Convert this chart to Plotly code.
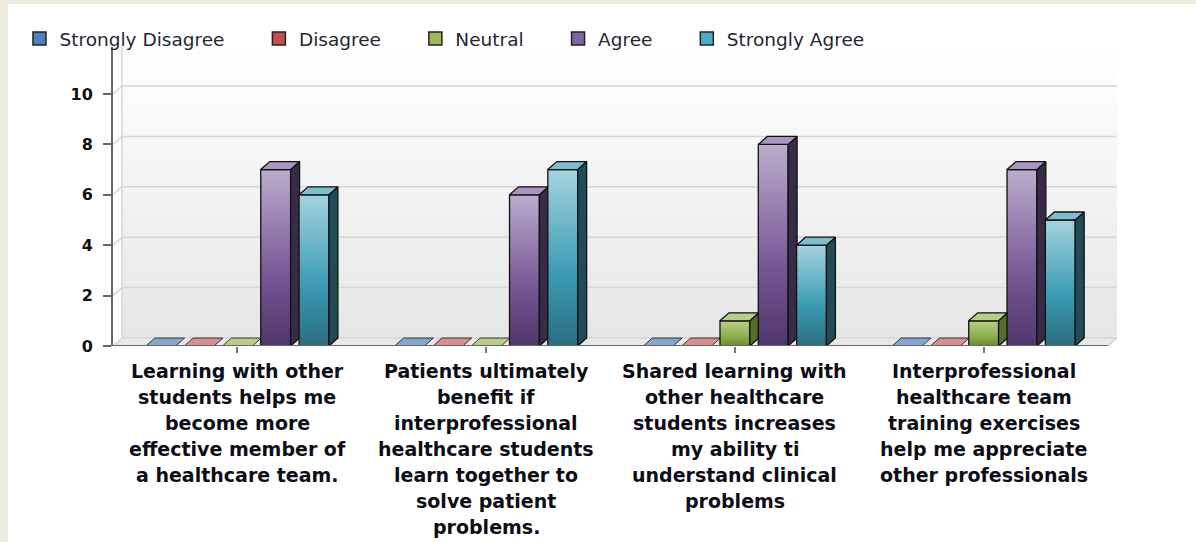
import plotly.graph_objects as go

# ---------------- data ----------------
categories = [
    "Learning with other students helps me become more effective member of a healthcare team.",
    "Patients ultimately benefit if interprofessional healthcare students learn together to solve patient problems.",
    "Shared learning with other healthcare students increases my ability ti understand clinical problems",
    "Interprofessional healthcare team training exercises help me appreciate other professionals",
]
category_label_lines = [
    ["Learning with other", "students helps me", "become more", "effective member of", "a healthcare team."],
    ["Patients ultimately", "benefit if", "interprofessional", "healthcare students", "learn together to", "solve patient", "problems."],
    ["Shared learning with", "other healthcare", "students increases", "my ability ti", "understand clinical", "problems"],
    ["Interprofessional", "healthcare team", "training exercises", "help me appreciate", "other professionals"],
]
series_names = ["Strongly Disagree", "Disagree", "Neutral", "Agree", "Strongly Agree"]
strongly_disagree = [0, 0, 0, 0]
disagree = [0, 0, 0, 0]
neutral = [0, 0, 1, 1]
agree = [7, 6, 8, 7]
strongly_agree = [6, 7, 4, 5]
series_values = [strongly_disagree, disagree, neutral, agree, strongly_agree]
y_ticks = [0, 2, 4, 6, 8, 10]

# ---------------- styles ----------------
legend_colors = ["#4f81bd", "#c0504d", "#9bbb59", "#8064a2", "#4bacc6"]
front_scales = [
    [[0, "#3d6594"], [0.4, "#5a86bd"], [1, "#a9c0dd"]],
    [[0, "#8c3431"], [0.4, "#c0504d"], [1, "#e0a7a5"]],
    [[0, "#6b8a32"], [0.4, "#8fb04e"], [1, "#b8cf86"]],
    [[0, "#4f366a"], [0.4, "#775896"], [1, "#bbadcd"]],
    [[0, "#2b6d7e"], [0.4, "#3a9bb3"], [1, "#a4d3de"]],
]
side_colors = ["#2b4668", "#5e2322", "#566d27", "#382b48", "#214c57"]
top_colors = ["#86a5cf", "#d6908e", "#b7cd89", "#a895c0", "#7cbfd0"]
edge_color = "#111111"

# page body margin (beige frame) -> figure is laid out in window px minus offsets
OFF_X, OFF_Y = 8, 4
W, H = 1196 - OFF_X, 542 - OFF_Y
L_PX, R_PX, T_PX, B_PX = 108 - OFF_X, 1117 - OFF_X, 47 - OFF_Y, 346 - OFF_Y
PX_PER_X = 250.0
PX_PER_Y = 25.2
X_MIN = -0.5
X_MAX = X_MIN + (R_PX - L_PX) / PX_PER_X
Y_MAX = (B_PX - T_PX) / PX_PER_Y
DX = 9 / PX_PER_X
DY = 8 / PX_PER_Y
PITCH = 0.154
BAR_W = 0.12
CAT_END = len(categories) - 0.5


def px_x(p):
    return (p - OFF_X - L_PX) / (R_PX - L_PX)


def px_y(p):
    return (B_PX - (p - OFF_Y)) / (B_PX - T_PX)


fig = go.Figure()

# back wall with vertical gradient
fig.add_trace(go.Scatter(
    x=[X_MIN + DX, X_MAX, X_MAX, X_MIN + DX, X_MIN + DX],
    y=[DY, DY, Y_MAX, Y_MAX, DY],
    mode="lines", line=dict(width=0), fill="toself",
    fillgradient=dict(type="vertical", colorscale=[[0, "#e6e6e6"], [1, "#ffffff"]]),
    hoverinfo="skip", showlegend=False))
# floor
fig.add_trace(go.Scatter(
    x=[X_MIN, CAT_END, CAT_END + DX, X_MIN + DX, X_MIN],
    y=[0, 0, DY, DY, 0],
    mode="lines", line=dict(width=0), fill="toself", fillcolor="#e9e9e9",
    hoverinfo="skip", showlegend=False))
# grid lines on wall (skewed)
gx, gy = [], []
for v in y_ticks:
    gx += [X_MIN, X_MIN + DX, X_MAX, None]
    gy += [v, v + DY, v + DY, None]
gx += [X_MIN + DX, X_MIN + DX, None]
gy += [DY, Y_MAX, None]
fig.add_trace(go.Scatter(x=gx, y=gy, mode="lines", line=dict(color="#d6d6d6", width=1.5),
                         hoverinfo="skip", showlegend=False))
# floor front-right edge
fig.add_trace(go.Scatter(x=[CAT_END, CAT_END + DX, X_MAX], y=[0, DY, DY], mode="lines",
                         line=dict(color="#cfcfcf", width=1.2), hoverinfo="skip", showlegend=False))

# 3D bars
n_series = len(series_values)
for j in range(len(categories)):
    for i in range(n_series):
        v = series_values[i][j]
        c = j + (i - (n_series - 1) / 2) * PITCH
        x0, x1 = c - BAR_W / 2, c + BAR_W / 2
        if v > 0:
            fig.add_trace(go.Scatter(
                x=[x0, x1, x1, x0, x0], y=[0, 0, v, v, 0], mode="lines",
                line=dict(color=edge_color, width=1.3), fill="toself",
                fillgradient=dict(type="vertical", colorscale=front_scales[i]),
                hoverinfo="skip", showlegend=False))
            fig.add_trace(go.Scatter(
                x=[x1, x1 + DX, x1 + DX, x1, x1], y=[0, DY, v + DY, v, 0], mode="lines",
                line=dict(color=edge_color, width=1.3), fill="toself", fillcolor=side_colors[i],
                hoverinfo="skip", showlegend=False))
        fig.add_trace(go.Scatter(
            x=[x0, x1, x1 + DX, x0 + DX, x0], y=[v, v, v + DY, v + DY, v], mode="lines",
            line=dict(color=edge_color, width=1.3 if v > 0 else 0.8), fill="toself",
            fillcolor=top_colors[i], hoverinfo="skip", showlegend=False))

# front x-axis line
fig.add_trace(go.Scatter(x=[X_MIN, CAT_END], y=[0, 0], mode="lines",
                         line=dict(color="#666666", width=2), hoverinfo="skip", showlegend=False))

# legend entries
for i, name in enumerate(series_names):
    fig.add_trace(go.Scatter(
        x=[None], y=[None], mode="markers", name=name + "\u00a0" * 5,
        marker=dict(symbol="square", size=13, color=legend_colors[i],
                    line=dict(color="#222222", width=1.5))))

# category labels, one annotation per line
for j, lines in enumerate(category_label_lines):
    for k, line in enumerate(lines):
        fig.add_annotation(
            x=j, y=0, xref="x", yref="y", text=line, showarrow=False,
            xanchor="center", yanchor="middle", yshift=-(25 + 26 * k),
            font=dict(family="DejaVu Sans", size=19, color="#0d0d16", weight="bold"))

fig.update_layout(
    width=W, height=H, autosize=False,
    margin=dict(l=L_PX, r=W - R_PX, t=T_PX, b=H - B_PX, pad=0),
    paper_bgcolor="#ffffff", plot_bgcolor="rgba(0,0,0,0)",
    showlegend=True,
    legend=dict(orientation="h", x=px_x(14), xanchor="left", y=px_y(39), yanchor="middle",
                font=dict(family="DejaVu Sans", size=18.5, color="#26262e"),
                itemwidth=30, bgcolor="rgba(0,0,0,0)", traceorder="normal"),
    xaxis=dict(range=[X_MIN, X_MAX], showgrid=False, zeroline=False, showline=False,
               tickmode="array", tickvals=list(range(len(categories))), ticktext=[""] * len(categories),
               ticks="outside", ticklen=6, tickcolor="#777777", tickwidth=1.5, fixedrange=True),
    yaxis=dict(range=[0, Y_MAX], showgrid=False, zeroline=False, showline=True,
               linecolor="#666666", linewidth=2,
               tickmode="array", tickvals=y_ticks, ticktext=[str(v) for v in y_ticks],
               ticks="outside", ticklen=8, tickcolor="#666666", tickwidth=1.5,
               ticklabelstandoff=7,
               tickfont=dict(family="DejaVu Sans", size=16, color="#111111", weight="bold"),
               fixedrange=True),
)

fig.write_html(
    "out.html",
    post_script=(
        "document.body.style.background='#eeebdf';"
        "document.body.style.margin='%dpx 0 0 %dpx';"
        "document.body.style.overflow='hidden';"
        "document.documentElement.style.overflow='hidden';" % (OFF_Y, OFF_X)
    ),
)
